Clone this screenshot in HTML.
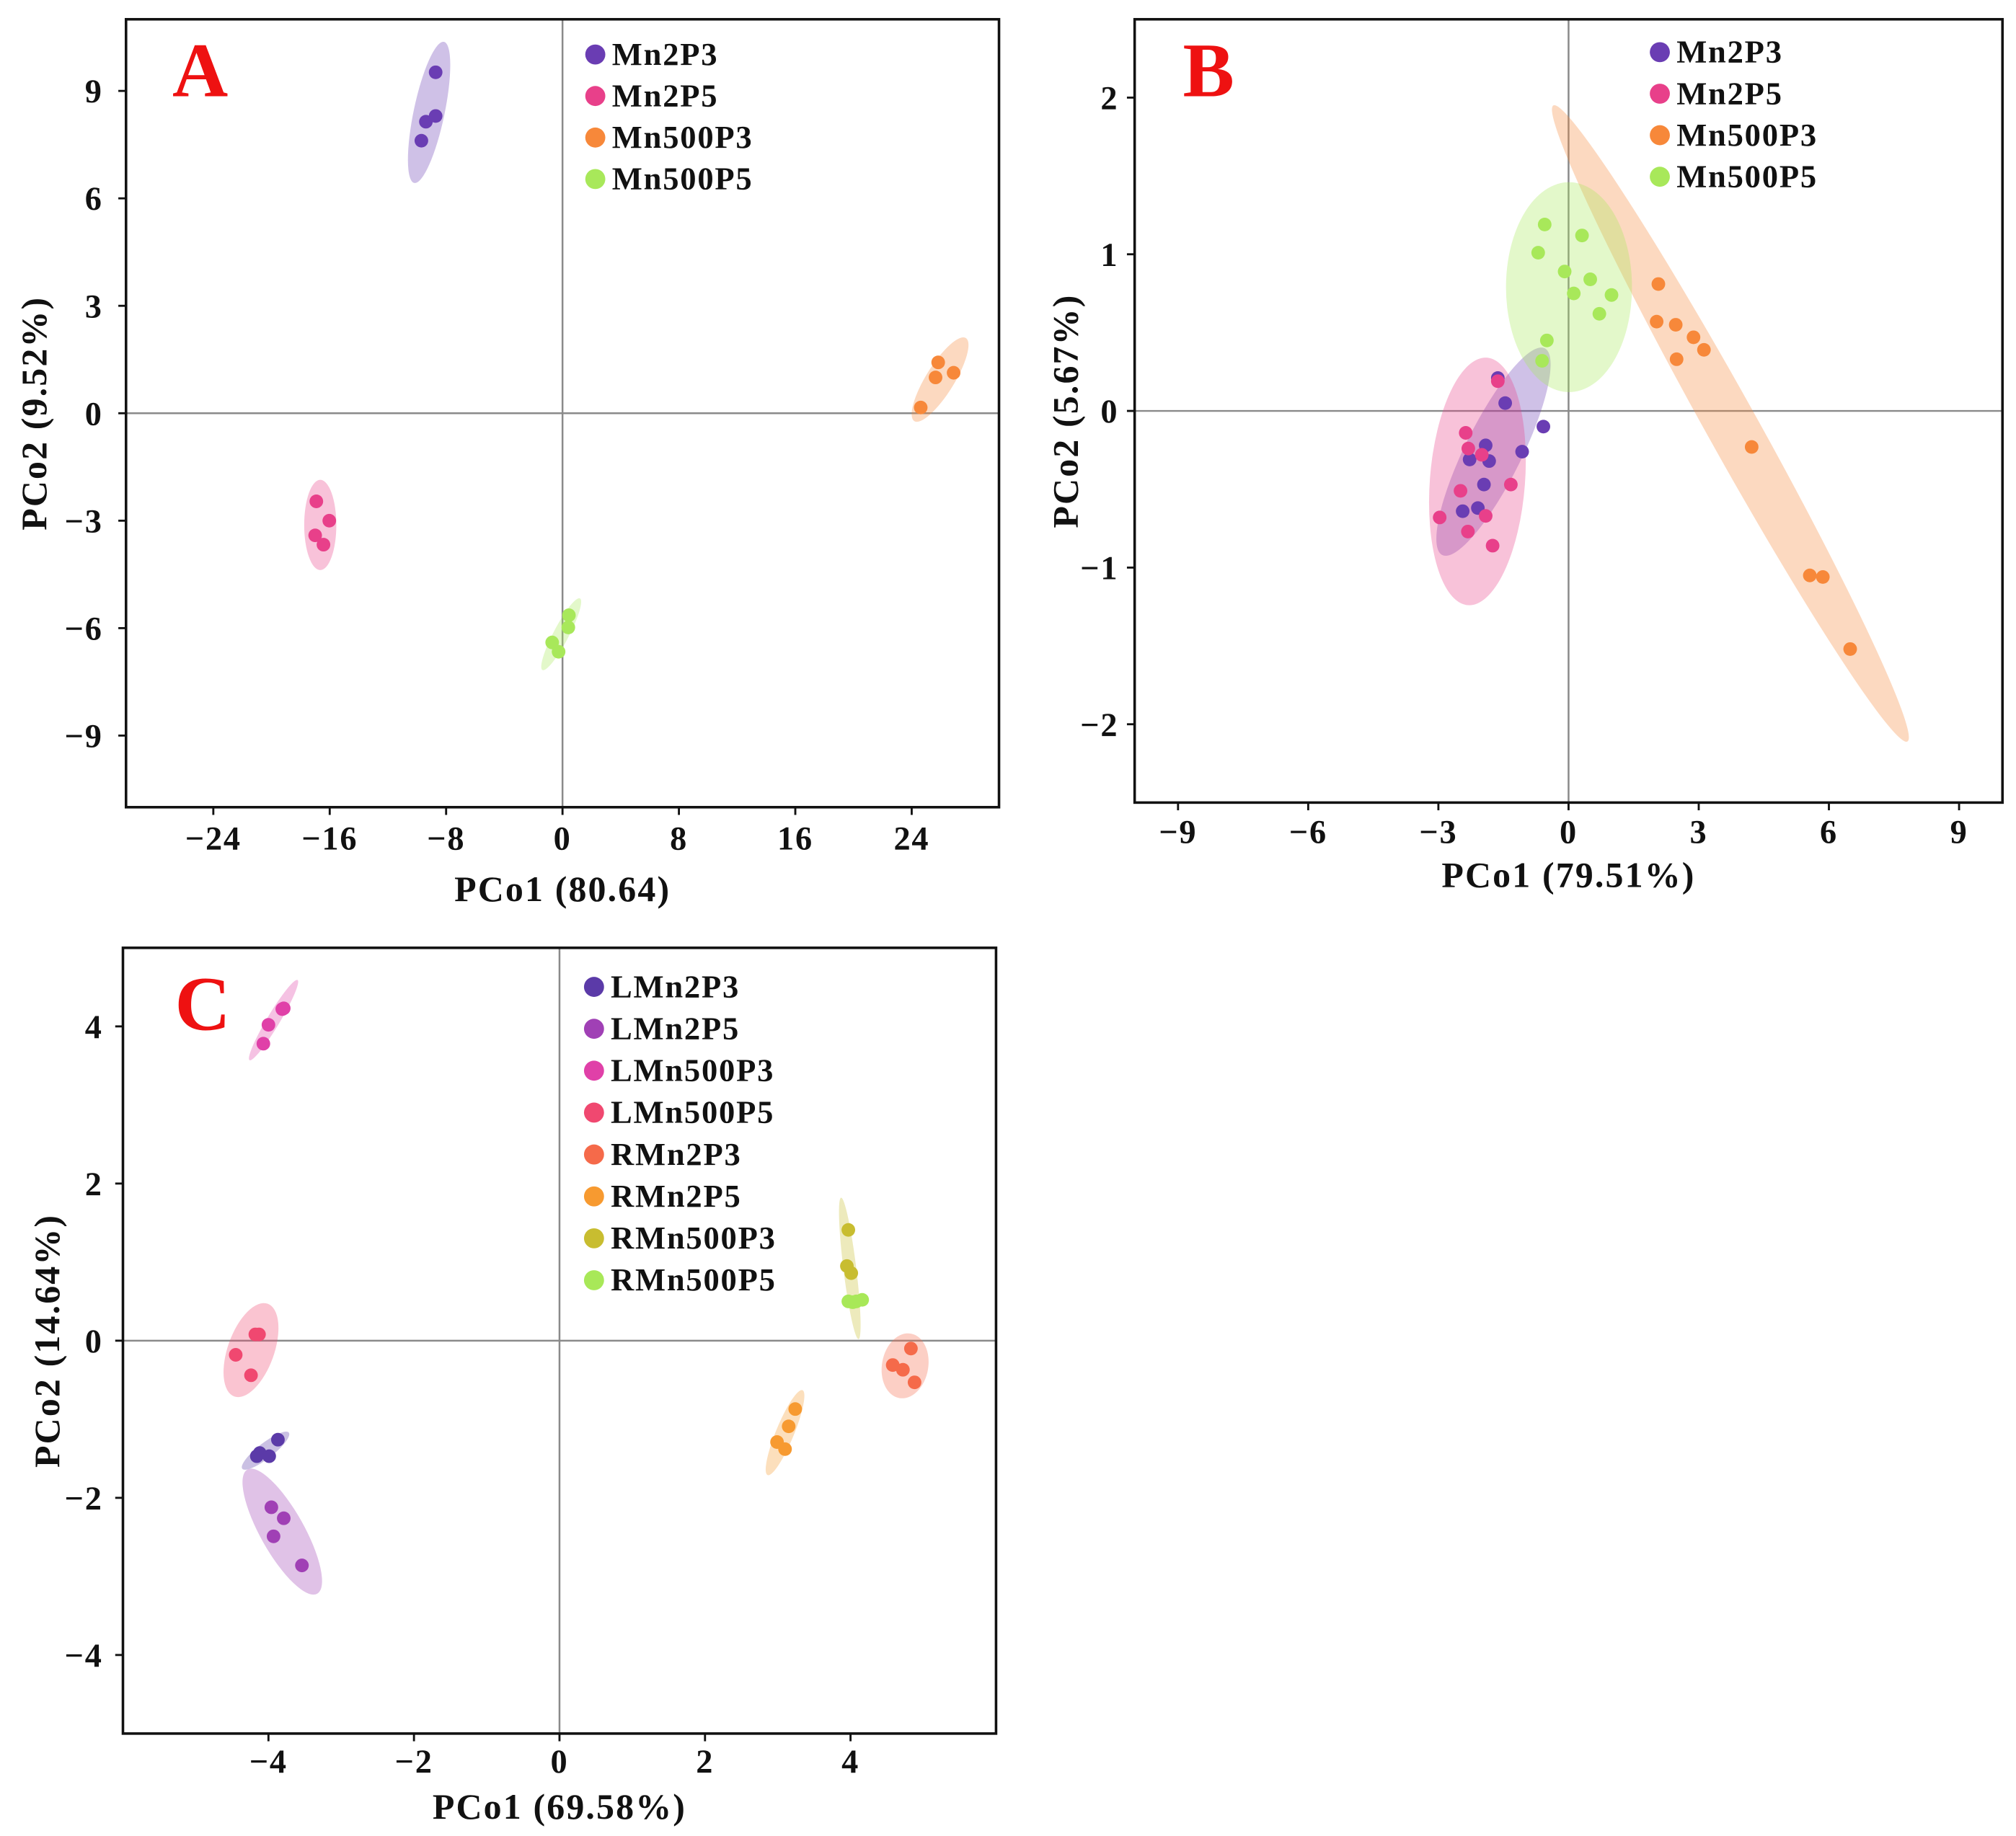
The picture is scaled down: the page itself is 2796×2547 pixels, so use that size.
<!DOCTYPE html>
<html><head><meta charset="utf-8"><style>
html,body{margin:0;padding:0;background:#fff;}
svg{display:block;}
</style></head><body>
<svg id="fig" width="2796" height="2547" viewBox="0 0 1568 1428.4" xmlns="http://www.w3.org/2000/svg" font-family="'Liberation Serif', 'Times New Roman', serif" font-weight="bold"></svg>
<script>
// ---------- Panel A data ----------
const aLabels = ["Mn2P3","Mn2P5","Mn500P3","Mn500P5"];
const aColors = ["#6a3db3","#e8408a","#f7883a","#a8e85a"];
const aXTicks = [-24,-16,-8,0,8,16,24];
const aYTicks = [-9,-6,-3,0,3,6,9];
const aMn2P3x = [-8.72,-9.39,-8.72,-9.70];
const aMn2P3y = [9.52,8.14,8.30,7.61];
const aMn2P5x = [-16.92,-16.03,-17.0,-16.43];
const aMn2P5y = [-2.46,-3.0,-3.41,-3.67];
const aMn500P3x = [25.82,25.64,26.88,24.62];
const aMn500P3y = [1.42,1.0,1.13,0.16];
const aMn500P5x = [0.44,0.40,-0.71,-0.27];
const aMn500P5y = [-5.64,-5.98,-6.40,-6.66];
const aEllCx = [-9.17,-16.65,25.95,-0.09];
const aEllCy = [8.4,-3.12,0.94,-6.17];
const aEllEx = [-8.15,-16.65,27.72,1.2];
const aEllEy = [10.37,-1.86,2.10,-5.17];
const aEllMinor = [12,12.5,11,6];

// ---------- Panel B data ----------
const bLabels = ["Mn2P3","Mn2P5","Mn500P3","Mn500P5"];
const bColors = ["#6a3db3","#e8408a","#f7883a","#a8e85a"];
const bXTicks = [-9,-6,-3,0,3,6,9];
const bYTicks = [-2,-1,0,1,2];
const bMn2P3x = [-1.63,-1.46,-0.58,-1.91,-2.28,-1.83,-1.07,-1.95,-2.44,-2.09];
const bMn2P3y = [0.21,0.05,-0.10,-0.22,-0.31,-0.32,-0.26,-0.47,-0.64,-0.62];
const bMn2P5x = [-1.63,-2.37,-2.31,-2.0,-1.33,-2.49,-2.97,-1.91,-2.32,-1.75];
const bMn2P5y = [0.19,-0.14,-0.24,-0.28,-0.47,-0.51,-0.68,-0.67,-0.77,-0.86];
const bMn500P3x = [2.07,2.03,2.47,2.88,3.12,2.49,4.22,5.56,5.86,6.49];
const bMn500P3y = [0.81,0.57,0.55,0.47,0.39,0.33,-0.23,-1.05,-1.06,-1.52];
const bMn500P5x = [-0.55,0.31,-0.70,-0.09,0.50,0.12,0.99,0.71,-0.50,-0.61];
const bMn500P5y = [1.19,1.12,1.01,0.89,0.84,0.75,0.74,0.62,0.45,0.32];
const bEllCx = [-1.73,-2.10,3.73,0.01];
const bEllCy = [-0.26,-0.45,-0.08,0.79];
const bEllEx = [-0.55,-1.88,7.81,0.01];
const bEllEy = [0.40,0.34,-2.11,1.46];
const bEllMinor = [22,37,20,49];

// ---------- Panel C data ----------
const cLabels = ["LMn2P3","LMn2P5","LMn500P3","LMn500P5","RMn2P3","RMn2P5","RMn500P3","RMn500P5"];
const cColors = ["#5b3aa8","#a040b5","#e040a8","#f04870","#f56a4a","#f79a30","#c8bd30","#a8e858"];
const cXTicks = [-4,-2,0,2,4];
const cYTicks = [-4,-2,0,2,4];
const cLMn2P3x = [-3.87,-4.12,-3.99,-4.16];
const cLMn2P3y = [-1.26,-1.43,-1.47,-1.47];
const cLMn2P5x = [-3.96,-3.79,-3.93,-3.54];
const cLMn2P5y = [-2.12,-2.26,-2.49,-2.86];
const cLMn500P3x = [-3.81,-4.0,-4.07,-3.79];
const cLMn500P3y = [4.22,4.02,3.78,4.23];
const cLMn500P5x = [-4.18,-4.13,-4.45,-4.24];
const cLMn500P5y = [0.08,0.08,-0.18,-0.44];
const cRMn2P3x = [4.83,4.58,4.72,4.88];
const cRMn2P3y = [-0.10,-0.31,-0.37,-0.53];
const cRMn2P5x = [3.24,3.15,2.99,3.10];
const cRMn2P5y = [-0.87,-1.09,-1.29,-1.38];
const cRMn500P3x = [3.97,3.95,4.01];
const cRMn500P3y = [1.41,0.95,0.86];
const cRMn500P5x = [3.97,4.08,4.16,4.03];
const cRMn500P5y = [0.50,0.50,0.52,0.49];
const cEllCx = [-4.04,-3.81,-3.93,-4.24,4.75,3.10,3.99,4.07];
const cEllCy = [-1.40,-2.43,4.08,-0.12,-0.32,-1.17,0.92,0.50];
const cEllEx = [-3.72,-3.33,-3.6,-4.01,4.83,3.34,3.87,4.17];
const cEllEy = [-1.17,-3.22,4.59,0.47,0.09,-0.63,1.82,0.50];
const cEllMinor = [6,17,5,18,18,7,5,3];

const NS = "http://www.w3.org/2000/svg";
const FONT = "'Liberation Serif', 'Times New Roman', serif";
const svg = document.getElementById("fig");
function mk(tag, attrs, parent){
  const e = document.createElementNS(NS, tag);
  for (const k in attrs) e.setAttribute(k, attrs[k]);
  if (tag === "text"){ e.setAttribute("font-family", FONT); e.setAttribute("font-weight","bold"); }
  (parent||svg).appendChild(e);
  return e;
}
function fmt(v){ return v<0 ? "\u2212"+Math.abs(v) : String(v); }

function panel(cfg){
  const g = mk("g", {});
  
  
  const L=cfg.L,R=cfg.R,T=cfg.T,B=cfg.B;
  const sx = v => L + (v - cfg.xmin)/(cfg.xmax-cfg.xmin)*(R-L);
  const sy = v => B - (v - cfg.ymin)/(cfg.ymax-cfg.ymin)*(B-T);
  const zx = mk("line",{x1:sx(0),x2:sx(0),y1:T,y2:B,stroke:"#8a8a8a","stroke-width":1.4},g);
  
  
  const zy = mk("line",{x1:L,x2:R,y1:sy(0),y2:sy(0),stroke:"#8a8a8a","stroke-width":1.4},g);
  
  
  for (let i=0;i<cfg.ellCx.length;i++){
    const cx=sx(cfg.ellCx[i]), cy=sy(cfg.ellCy[i]);
    const ex=sx(cfg.ellEx[i]), ey=sy(cfg.ellEy[i]);
    const a=Math.hypot(ex-cx,ey-cy);
    const ang=Math.atan2(ey-cy,ex-cx)*180/Math.PI;
    const el = mk("ellipse",{cx:cx,cy:cy,rx:a,ry:cfg.ellMinor[i],transform:`rotate(${ang} ${cx} ${cy})`,fill:cfg.colors[i],"fill-opacity":0.32},g);
    
    
  }
  for (let s=0;s<cfg.xs.length;s++){
    for (let j=0;j<cfg.xs[s].length;j++){
      const c = mk("circle",{cx:sx(cfg.xs[s][j]),cy:sy(cfg.ys[s][j]),r:5.3,fill:cfg.colors[s]},g);
      
      
    }
  }
  const fr = mk("rect",{x:L,y:T,width:R-L,height:B-T,fill:"none",stroke:"#111","stroke-width":2},g);
  
  
  for (const t of cfg.xticks){
    const x=sx(t);
    const tk = mk("line",{x1:x,x2:x,y1:B,y2:B+6,stroke:"#111","stroke-width":1.6},g);
    
    
    const tl = mk("text",{x:x,y:cfg.xTickY,"text-anchor":"middle","font-size":26,"letter-spacing":1,fill:"#111"},g);
    tl.textContent = fmt(t);
    
    
  }
  for (const t of cfg.yticks){
    const y=sy(t);
    const tk = mk("line",{x1:L-6,x2:L,y1:y,y2:y,stroke:"#111","stroke-width":1.6},g);
    
    
    const tl = mk("text",{x:cfg.yTickX,y:y+9,"text-anchor":"end","font-size":26,"letter-spacing":1,fill:"#111"},g);
    tl.textContent = fmt(t);
    
    
  }
  const xt = mk("text",{x:(L+R)/2,y:cfg.xTitleY,"text-anchor":"middle","font-size":28,"letter-spacing":1.2,fill:"#111"},g);
  xt.textContent = cfg.xTitle;
  
  
  const yc=(T+B)/2;
  const yt = mk("text",{x:cfg.yTitleX,y:yc,"text-anchor":"middle","font-size":28,"letter-spacing":1.2,fill:"#111",transform:`rotate(-90 ${cfg.yTitleX} ${yc})`},g);
  yt.textContent = cfg.yTitle;
  
  
  const pl = mk("text",{x:cfg.letterX,y:cfg.letterY,"font-size":60,fill:"#ee1111"},g);
  pl.textContent = cfg.letter;
  
  
  for (let i=0;i<cfg.labels.length;i++){
    const y = cfg.legY0 + i*cfg.legDy;
    const d = mk("circle",{cx:cfg.legX,cy:y,r:7.8,fill:cfg.colors[i]},g);
    
    
    const lt = mk("text",{x:cfg.legX+13,y:y+8,"font-size":25,"letter-spacing":1,fill:"#111"},g);
    lt.textContent = cfg.labels[i];
    
    
  }
}

panel({name:"panel-a",L:98,R:777,T:15,B:628,xmin:-30,xmax:30,ymin:-11,ymax:11,
  xticks:aXTicks,yticks:aYTicks,xTickY:661,yTickX:80,xTitleY:701,yTitleX:36,
  xTitle:"PCo1 (80.64)",yTitle:"PCo2 (9.52%)",letter:"A",letterX:134,letterY:75,
  labels:aLabels,colors:aColors,legX:463,legY0:42.4,legDy:32.3,
  xs:[aMn2P3x,aMn2P5x,aMn500P3x,aMn500P5x],ys:[aMn2P3y,aMn2P5y,aMn500P3y,aMn500P5y],
  ellCx:aEllCx,ellCy:aEllCy,ellEx:aEllEx,ellEy:aEllEy,ellMinor:aEllMinor});

panel({name:"panel-b",L:882.5,R:1557.5,T:15,B:624.4,xmin:-10,xmax:10,ymin:-2.5,ymax:2.5,
  xticks:bXTicks,yticks:bYTicks,xTickY:656,yTickX:870,xTitleY:690,yTitleX:838,
  xTitle:"PCo1 (79.51%)",yTitle:"PCo2 (5.67%)",letter:"B",letterX:920,letterY:75,
  labels:bLabels,colors:bColors,legX:1291,legY0:40.6,legDy:32.3,
  xs:[bMn2P3x,bMn2P5x,bMn500P3x,bMn500P5x],ys:[bMn2P3y,bMn2P5y,bMn500P3y,bMn500P5y],
  ellCx:bEllCx,ellCy:bEllCy,ellEx:bEllEx,ellEy:bEllEy,ellMinor:bEllMinor});

panel({name:"panel-c",L:95.6,R:774.7,T:737.4,B:1348.7,xmin:-6,xmax:6,ymin:-5,ymax:5,
  xticks:cXTicks,yticks:cYTicks,xTickY:1379,yTickX:80,xTitleY:1415,yTitleX:46,
  xTitle:"PCo1 (69.58%)",yTitle:"PCo2 (14.64%)",letter:"C",letterX:136,letterY:801,
  labels:cLabels,colors:cColors,legX:462,legY0:767.8,legDy:32.6,
  xs:[cLMn2P3x,cLMn2P5x,cLMn500P3x,cLMn500P5x,cRMn2P3x,cRMn2P5x,cRMn500P3x,cRMn500P5x],
  ys:[cLMn2P3y,cLMn2P5y,cLMn500P3y,cLMn500P5y,cRMn2P3y,cRMn2P5y,cRMn500P3y,cRMn500P5y],
  ellCx:cEllCx,ellCy:cEllCy,ellEx:cEllEx,ellEy:cEllEy,ellMinor:cEllMinor});
</script>
</body></html>
